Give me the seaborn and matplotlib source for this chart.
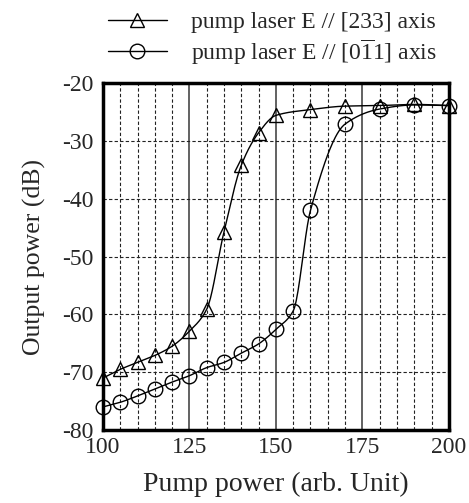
import numpy as np
import pandas as pd
import matplotlib
matplotlib.use("Agg")
import matplotlib.pyplot as plt
from matplotlib.lines import Line2D
from matplotlib.ticker import MultipleLocator
import seaborn as sns

# ---- data ----
pump_233 = [100, 105, 110, 115, 120, 125, 130, 135, 140, 145, 150, 160, 170, 180, 190, 200]
power_233 = [-71.0, -69.5, -68.3, -67.1, -65.5, -62.9, -59.1, -45.7, -34.2, -28.6, -25.6, -24.6, -24.0, -23.9, -23.7, -23.9]
pump_011 = [100, 105, 110, 115, 120, 125, 130, 135, 140, 145, 150, 155, 160, 170, 180, 190, 200]
power_011 = [-76.0, -75.2, -74.1, -72.9, -71.7, -70.6, -69.2, -68.3, -66.7, -65.1, -62.6, -59.4, -42.0, -27.1, -24.5, -23.8, -23.9]
label_233 = "pump laser E // [233] axis"
label_011 = "pump laser E // [0$\\overline{1}$1] axis"
x_ticks = [100, 125, 150, 175, 200]
y_ticks = [-80, -70, -60, -50, -40, -30, -20]


def pchip(x, y, xn):
    x = np.asarray(x, float); y = np.asarray(y, float)
    h = np.diff(x); d = np.diff(y) / h
    n = len(x); m = np.zeros(n)
    for k in range(1, n - 1):
        if d[k - 1] * d[k] > 0:
            w1 = 2 * h[k] + h[k - 1]; w2 = h[k] + 2 * h[k - 1]
            m[k] = (w1 + w2) / (w1 / d[k - 1] + w2 / d[k])
    m[0] = d[0]; m[-1] = d[-1]
    idx = np.clip(np.searchsorted(x, xn) - 1, 0, n - 2)
    t = (xn - x[idx]) / h[idx]
    h00 = 2 * t**3 - 3 * t**2 + 1; h10 = t**3 - 2 * t**2 + t
    h01 = -2 * t**3 + 3 * t**2; h11 = t**3 - t**2
    return h00 * y[idx] + h10 * h[idx] * m[idx] + h01 * y[idx + 1] + h11 * h[idx] * m[idx + 1]


sns.set_theme(style="white")
plt.rcParams["font.family"] = ["Liberation Serif", "DejaVu Serif"]
plt.rcParams["mathtext.fontset"] = "custom"
plt.rcParams["mathtext.rm"] = "Liberation Serif"
plt.rcParams["mathtext.it"] = "Liberation Serif:italic"
plt.rcParams["axes.unicode_minus"] = False

fig = plt.figure(figsize=(4.69, 5.03), dpi=100)
ax = fig.add_axes([0.2196, 0.145, 0.7374, 0.69])

xs = np.linspace(100, 200, 400)
curve_a = pd.DataFrame({"x": xs, "y": pchip(pump_233, power_233, xs)})
curve_b = pd.DataFrame({"x": xs, "y": pchip(pump_011, power_011, xs)})
sns.lineplot(data=curve_a, x="x", y="y", ax=ax, color="black", lw=1.0, zorder=3)
sns.lineplot(data=curve_b, x="x", y="y", ax=ax, color="black", lw=1.0, zorder=3)

MS = 10.5
df_a = pd.DataFrame({"x": pump_233, "y": power_233})
df_b = pd.DataFrame({"x": pump_011, "y": power_011})
ax.plot(df_a["x"], df_a["y"], ls="none", marker="^", ms=MS, mfc="none", mec="black", mew=1.0, zorder=4, clip_on=False)
ax.plot(df_b["x"], df_b["y"], ls="none", marker="o", ms=MS, mfc="none", mec="black", mew=1.0, zorder=4, clip_on=False)

ax.set_xlim(100, 200)
ax.set_ylim(-80, -20)
ax.set_xticks(x_ticks)
ax.set_yticks(y_ticks)
ax.xaxis.set_minor_locator(MultipleLocator(5))
ax.tick_params(which="both", length=0)
ax.tick_params(axis="x", labelsize=17, pad=5)
ax.tick_params(axis="y", labelsize=17, pad=7)

ax.xaxis.grid(True, which="minor", ls=(0, (3, 2)), lw=0.8, color="#222222")
ax.xaxis.grid(True, which="major", ls="-", lw=1.3, color="#555555")
ax.yaxis.grid(True, which="major", ls=(0, (3, 2)), lw=0.8, color="#222222")
ax.set_axisbelow(True)

for s in ax.spines.values():
    s.set_visible(True)
    s.set_color("black")
    s.set_linewidth(2.5)

ax.set_xlabel("Pump power (arb. Unit)", fontsize=20, labelpad=10)
ax.set_ylabel("Output power (dB)", fontsize=18.5, labelpad=11)

handles = [
    Line2D([], [], color="black", lw=1.0, marker="^", ms=MS, mfc="none", mec="black"),
    Line2D([], [], color="black", lw=1.0, marker="o", ms=MS, mfc="none", mec="black"),
]
fig.legend(handles, [label_233, label_011], loc="upper left",
           bbox_to_anchor=(0.205, 1.0), frameon=False, fontsize=17,
           handlelength=2.5, handletextpad=1.0, labelspacing=0.15,
           borderaxespad=0.1)

fig.savefig("out.png", dpi=100)
